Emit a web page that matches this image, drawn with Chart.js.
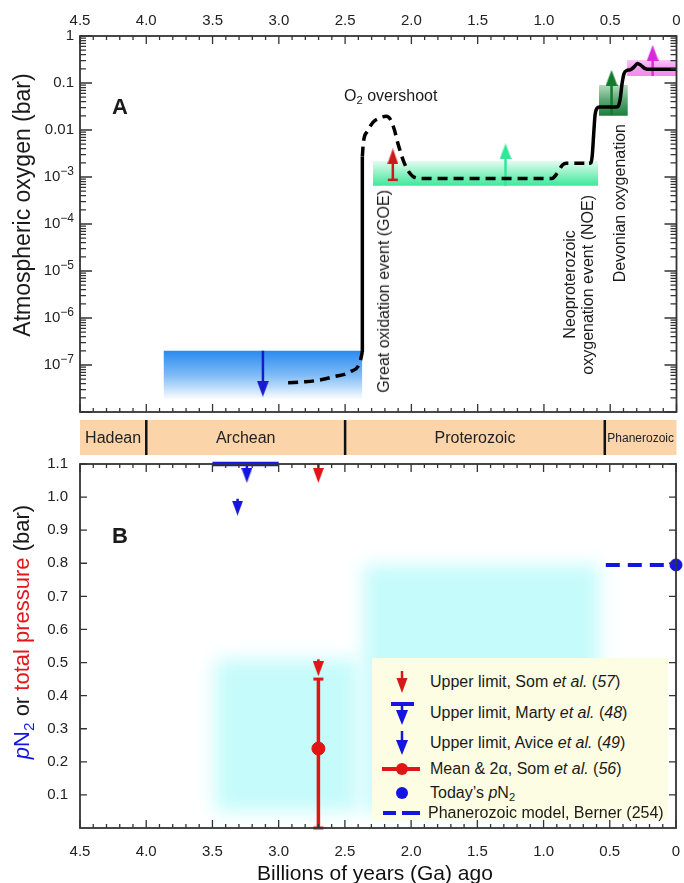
<!DOCTYPE html>
<html>
<head>
<meta charset="utf-8">
<script src="https://cdn.jsdelivr.net/npm/chart.js@4.4.0/dist/chart.umd.min.js"></script>
<style>
    html, body { margin: 0; padding: 0; background: #fff; }
    body { width: 684px; height: 883px; position: relative; overflow: hidden;
           font-family: "Liberation Sans", Arial, sans-serif; color: #1a1a1a; }
    canvas { position: absolute; left: 0; }
    #chartA { top: 0; }
    #chartB { top: 456px; }
    sub { font-size: 0.7em; vertical-align: -0.3em; line-height: 0; }
    .note { position: absolute; white-space: nowrap; font-size: 16px; line-height: 18px; }
    .vert { writing-mode: vertical-rl; transform: rotate(180deg); text-align: center; }
    .ytitle { position: absolute; white-space: nowrap; line-height: 26px;
              transform: translate(-50%, -50%) rotate(-90deg); }
    .xtitle { position: absolute; left: 75px; width: 600px; top: 861px; text-align: center;
              font-size: 21px; line-height: 24px; color: #111; }
    .panel { position: absolute; font-weight: bold; font-size: 22px; line-height: 24px; }
    #legend { position: absolute; left: 372px; top: 658px; width: 296px; height: 162px; background: #fdfde3; }
    .row { position: absolute; left: 0; height: 30px; line-height: 30px; font-size: 16px; white-space: nowrap; }
    .row svg { position: absolute; left: 0; top: 0; }
    .row span { position: absolute; left: 58px; top: 0; }
</style>
</head>
<body>
<canvas id="chartA" width="684" height="456"></canvas>
<canvas id="chartB" width="684" height="427"></canvas>

<div class="ytitle" style="left:22px; top:205px; font-size:23px;">Atmospheric oxygen (bar)</div>
<div class="ytitle" style="left:22px; top:632px; font-size:22px;"><span style="color:#1515e6"><i>p</i>N<sub>2</sub></span> or <span style="color:#e3161b">total pressure</span> (bar)</div>
<div class="xtitle">Billions of years (Ga) ago</div>

<div class="panel" style="left:112px; top:95px;">A</div>
<div class="panel" style="left:112px; top:524px;">B</div>

<div class="note" style="left:344px; top:87px;">O<sub>2</sub> overshoot</div>
<div class="note vert" style="left:375px; bottom:490px;">Great oxidation event (GOE)</div>
<div class="note vert" style="left:561px; bottom:508px;">Neoproterozoic<br>oxygenation event (NOE)</div>
<div class="note vert" style="left:611px; bottom:601px;">Devonian oxygenation</div>

<div id="legend">
    <div class="row" style="top:9px;">
        <svg width="58" height="30"><line x1="30" y1="4" x2="30" y2="14" stroke="#d11a1a" stroke-width="2.5"/><polygon points="24.5,11 35.5,11 30,26" fill="#d11a1a"/></svg>
        <span>Upper limit, Som <i>et al.</i> (<i>57</i>)</span>
    </div>
    <div class="row" style="top:40px;">
        <svg width="58" height="30"><line x1="19" y1="6" x2="42" y2="6" stroke="#1515e0" stroke-width="4"/><line x1="30" y1="6" x2="30" y2="15" stroke="#1515e0" stroke-width="2.5"/><polygon points="24,12 36,12 30,27" fill="#1515e0"/></svg>
        <span>Upper limit, Marty <i>et al.</i> (<i>48</i>)</span>
    </div>
    <div class="row" style="top:70px;">
        <svg width="58" height="30"><line x1="30" y1="3" x2="30" y2="15" stroke="#1515e0" stroke-width="2.5"/><polygon points="24,12 36,12 30,27" fill="#1515e0"/></svg>
        <span>Upper limit, Avice <i>et al.</i> (<i>49</i>)</span>
    </div>
    <div class="row" style="top:96px;">
        <svg width="58" height="30"><line x1="10" y1="15" x2="48" y2="15" stroke="#e01515" stroke-width="4"/><circle cx="30" cy="15" r="6" fill="#e01515"/></svg>
        <span>Mean &amp; 2α, Som <i>et al.</i> (<i>56</i>)</span>
    </div>
    <div class="row" style="top:120px;">
        <svg width="58" height="30"><circle cx="30" cy="15" r="6" fill="#1515e0"/></svg>
        <span>Today’s <i>p</i>N<sub>2</sub></span>
    </div>
    <div class="row" style="top:140px;">
        <svg width="58" height="30"><line x1="11" y1="15" x2="24" y2="15" stroke="#1515e0" stroke-width="4"/><line x1="30" y1="15" x2="48" y2="15" stroke="#1515e0" stroke-width="4"/></svg>
        <span style="left:56px;">Phanerozoic model, Berner (254)</span>
    </div>
</div>

<script>
    // ---- axes ----
    var xTickValues = [4.5, 4.0, 3.5, 3.0, 2.5, 2.0, 1.5, 1.0, 0.5, 0];
    var xTickLabels = ['4.5', '4.0', '3.5', '3.0', '2.5', '2.0', '1.5', '1.0', '0.5', '0'];
    var o2TickValues = [1, 0.1, 0.01, 1e-3, 1e-4, 1e-5, 1e-6, 1e-7];
    var o2TickLabels = ['1', '0.1', '0.01', '10^−3', '10^−4', '10^−5', '10^−6', '10^−7'];
    var n2TickValues = [0.1, 0.2, 0.3, 0.4, 0.5, 0.6, 0.7, 0.8, 0.9, 1.0, 1.1];
    var n2TickLabels = ['0.1', '0.2', '0.3', '0.4', '0.5', '0.6', '0.7', '0.8', '0.9', '1.0', '1.1'];

    var eonEdges = [4.5, 4.0, 2.5, 0.541, 0];
    var eonNames = ['Hadean', 'Archean', 'Proterozoic', 'Phanerozoic'];

    // ---- panel A: O2 history (age in Ga, pO2 in bar) ----
    var archeanAge = [2.93, 2.80, 2.69, 2.59, 2.46, 2.39, 2.37];
    var archeanO2 = [4.2e-8, 4.4e-8, 4.8e-8, 5.6e-8, 7.2e-8, 1.1e-7, 1.9e-7];
    var goeAge = [2.37, 2.37];
    var goeO2 = [1.9e-7, 2.7e-3];
    var proteroAge = [2.37, 2.362, 2.33, 2.29, 2.24, 2.19, 2.16, 2.13, 2.10, 2.06, 2.02, 1.96, 1.90, 0.94, 0.90, 0.86, 0.83, 0.66];
    var proteroO2 = [2.7e-3, 5.5e-3, 9.5e-3, 0.0145, 0.018, 0.0195, 0.017, 0.0105, 0.005, 0.0022, 0.0013, 9.5e-4, 9.3e-4, 9.3e-4, 1.2e-3, 1.8e-3, 1.95e-3, 1.95e-3];
    var neoAge = [0.66, 0.645, 0.635, 0.625, 0.615, 0.60, 0.58, 0.45, 0.44, 0.425, 0.41, 0.395, 0.375, 0.35, 0.32, 0.295, 0.27, 0.24, 0.20, 0];
    var neoO2 = [1.95e-3, 2.0e-3, 3e-3, 8e-3, 0.02, 0.029, 0.031, 0.031, 0.032, 0.045, 0.1, 0.16, 0.185, 0.19, 0.22, 0.26, 0.24, 0.205, 0.195, 0.195];

    // constraint boxes: [older, younger] age, [low, high] pO2
    var archeanBoxAge = [3.87, 2.37], archeanBoxO2 = [1.8e-8, 2e-7];
    var proteroBoxAge = [2.29, 0.59], proteroBoxO2 = [6.5e-4, 2.2e-3];
    var devonianBoxAge = [0.585, 0.367], devonianBoxO2 = [0.02, 0.091];
    var phanBoxAge = [0.373, 0], phanBoxO2 = [0.141, 0.31];

    // limit arrows: age, [base, head centre]
    var archeanArrowAge = 3.12, archeanArrowO2 = [2e-7, 3.13e-8];
    var goeArrowAge = 2.14, goeArrowO2 = [8.7e-4, 2.75e-3];
    var proteroArrowAge = 1.29, proteroArrowO2 = [6.5e-4, 3.5e-3];
    var devonianArrowAge = 0.49, devonianArrowO2 = [0.021, 0.128];
    var phanArrowAge = 0.18, phanArrowO2 = [0.141, 0.435];

    // ---- panel B: pN2 / total pressure (bar) ----
    var martyAge = [3.5, 3.0], martyN2 = 1.1;
    var martyArrowAge = 3.24, martyArrowN2 = [1.1, 1.0655];
    var aviceArrowAge = 3.31, aviceArrowN2 = [0.995, 0.9666];
    var som57Age = 2.7, som57TopN2 = [1.1, 1.0655], som57LowN2 = [0.51, 0.481];
    var som56Age = 2.7, som56Mean = 0.24, som56Range = [0, 0.45];
    var bernerAge = [0.53, 0], bernerN2 = 0.795;
    var todayAge = 0, todayN2 = 0.795;
    var hazeAge = [[3.48, 2.40], [2.36, 0.58]];
    var hazeN2 = [[0.05, 0.51], [0.05, 0.795]];

    var FONT = '"Liberation Sans", Arial, sans-serif';
    Chart.defaults.font.family = FONT;

    function pts(ages, vals) {
        return ages.map(function(a, i) { return {x: a, y: vals[i]}; });
    }
    function vline(age, vals) {
        return vals.map(function(v) { return {x: age, y: v}; });
    }

    // elongated arrowhead sprite, pointing up
    function arrowHead(color, w, h) {
        var c = document.createElement('canvas');
        c.width = w;
        c.height = h;
        var g = c.getContext('2d');
        g.fillStyle = color;
        g.beginPath();
        g.moveTo(w / 2, 0);
        g.lineTo(w, h);
        g.lineTo(0, h);
        g.closePath();
        g.fill();
        return c;
    }

    function curve(ages, vals, dashed) {
        return {
            data: pts(ages, vals), borderColor: '#000', borderWidth: 3.5,
            borderDash: dashed ? [10, 6] : [], borderJoinStyle: 'round',
            pointRadius: 0, cubicInterpolationMode: 'monotone', fill: false, order: 0
        };
    }

    function box(ages, vals, stops) {
        return {
            data: [{x: ages[0], y: vals[1]}, {x: ages[1], y: vals[1]}],
            fill: {value: vals[0]}, borderColor: 'rgba(0,0,0,0)', borderWidth: 0, pointRadius: 0, order: 2,
            backgroundColor: function(c) {
                var ch = c.chart;
                if (!ch.chartArea) return stops[stops.length - 1];
                var y = ch.scales.y;
                var g = ch.ctx.createLinearGradient(0, y.getPixelForValue(vals[1]), 0, y.getPixelForValue(vals[0]));
                stops.forEach(function(s, i) { g.addColorStop(i / (stops.length - 1), s); });
                return g;
            }
        };
    }

    function arrow(age, vals, color, down, capped, size) {
        var head = arrowHead(color, size[0], size[1]);
        return {
            data: vline(age, vals), borderColor: color, backgroundColor: color, borderWidth: 2.5,
            pointRadius: [capped ? 5 : 0, 6], pointStyle: [capped ? 'line' : 'circle', head],
            pointRotation: down ? 180 : 0, pointBackgroundColor: color, pointBorderColor: color,
            pointBorderWidth: [2.5, 1], fill: false, order: 1, clip: false
        };
    }

    // frame, inward ticks on all four sides, tick labels
    var framePlugin = {
        id: 'frame',
        afterDatasetsDraw: function(chart, args, o) {
            var ctx = chart.ctx, a = chart.chartArea, xs = chart.scales.x, ys = chart.scales.y;
            ctx.save();
            ctx.strokeStyle = '#333';
            ctx.lineWidth = 1.3;
            ctx.beginPath();
            o.xTicks.forEach(function(t) {
                var p = xs.getPixelForValue(t[0]);
                ctx.moveTo(p, a.top); ctx.lineTo(p, a.top + t[1]);
                ctx.moveTo(p, a.bottom); ctx.lineTo(p, a.bottom - t[1]);
            });
            o.yTicks.forEach(function(t) {
                var p = ys.getPixelForValue(t[0]);
                ctx.moveTo(a.left, p); ctx.lineTo(a.left + t[1], p);
                ctx.moveTo(a.right, p); ctx.lineTo(a.right - t[1], p);
            });
            ctx.stroke();
            ctx.lineWidth = 1.8;
            ctx.strokeRect(a.left, a.top, a.right - a.left, a.bottom - a.top);

            ctx.fillStyle = '#222';
            ctx.textBaseline = 'middle';
            ctx.textAlign = 'center';
            ctx.font = '15px ' + FONT;
            var ly = o.xSide === 'top' ? a.top - o.xGap : a.bottom + o.xGap;
            xTickValues.forEach(function(v, i) {
                ctx.fillText(xTickLabels[i], xs.getPixelForValue(v), ly);
            });
            ctx.textAlign = 'right';
            o.yValues.forEach(function(v, i) {
                var py = ys.getPixelForValue(v);
                var parts = o.yLabels[i].split('^');
                if (parts.length === 2) {
                    ctx.font = '12px ' + FONT;
                    var w = ctx.measureText(parts[1]).width;
                    ctx.fillText(parts[1], a.left - o.yGap, py - 5);
                    ctx.font = '15px ' + FONT;
                    ctx.fillText(parts[0], a.left - o.yGap - w, py);
                } else {
                    ctx.font = '15px ' + FONT;
                    ctx.fillText(parts[0], a.left - o.yGap, py);
                }
            });
            ctx.restore();
        }
    };

    // geologic eon band under panel A
    var eonPlugin = {
        id: 'eons',
        afterDraw: function(chart, args, o) {
            var ctx = chart.ctx, xs = chart.scales.x;
            var x0 = xs.getPixelForValue(eonEdges[0]);
            var x1 = xs.getPixelForValue(eonEdges[eonEdges.length - 1]);
            ctx.save();
            ctx.fillStyle = '#fbd4a9';
            ctx.fillRect(x0, o.top, x1 - x0, o.height);
            ctx.strokeStyle = '#111';
            ctx.lineWidth = 2.5;
            ctx.beginPath();
            for (var i = 1; i < eonEdges.length - 1; i++) {
                var p = xs.getPixelForValue(eonEdges[i]);
                ctx.moveTo(p, o.top); ctx.lineTo(p, o.top + o.height);
            }
            ctx.stroke();
            ctx.fillStyle = '#222';
            ctx.textAlign = 'center';
            ctx.textBaseline = 'middle';
            eonNames.forEach(function(n, i) {
                var c = (xs.getPixelForValue(eonEdges[i]) + xs.getPixelForValue(eonEdges[i + 1])) / 2;
                ctx.font = o.sizes[i] + 'px ' + FONT;
                ctx.fillText(n, c, o.top + o.height / 2 + 1);
            });
            ctx.restore();
        }
    };

    // soft cyan ranges in panel B
    var hazePlugin = {
        id: 'haze',
        beforeDatasetsDraw: function(chart, args, o) {
            var ctx = chart.ctx, xs = chart.scales.x, ys = chart.scales.y;
            ctx.save();
            ctx.filter = 'blur(' + o.blur + 'px)';
            ctx.fillStyle = o.color;
            hazeAge.forEach(function(ages, i) {
                var l = xs.getPixelForValue(ages[0]), r = xs.getPixelForValue(ages[1]);
                var t = ys.getPixelForValue(hazeN2[i][1]), b = ys.getPixelForValue(hazeN2[i][0]);
                ctx.fillRect(l, t, r - l, b - t);
            });
            ctx.restore();
        }
    };

    var xTicks = [];
    for (var i = 0; i <= 45; i++) xTicks.push([i / 10, i % 5 === 0 ? 8 : 4]);
    var logTicks = [[1, 12]];
    for (var e = -8; e < 0; e++) {
        for (var k = 1; k <= 9; k++) logTicks.push([k * Math.pow(10, e), k === 1 ? 12 : 6]);
    }
    var linTicks = n2TickValues.map(function(v) { return [v, 7]; });

    var ageAxis = {type: 'linear', display: false, reverse: true, min: 0, max: 4.5};

    var chartA = new Chart(document.getElementById('chartA'), {
        type: 'line',
        data: {
            datasets: [
                box(archeanBoxAge, archeanBoxO2, ['#2a8aef', '#7fbcf6', '#ffffff']),
                box(proteroBoxAge, proteroBoxO2, ['#e4fcf0', '#8ff2c4', '#3ee89c']),
                box(devonianBoxAge, devonianBoxO2, ['#b4dcbf', '#5aa673', '#1a7d3c']),
                box(phanBoxAge, phanBoxO2, ['#f9c8f6', '#f29cee', '#f08ceb']),
                curve(archeanAge, archeanO2, true),
                Object.assign(curve(goeAge, goeO2, false), {cubicInterpolationMode: 'default', tension: 0}),
                curve(proteroAge, proteroO2, true),
                curve(neoAge, neoO2, false),
                arrow(archeanArrowAge, archeanArrowO2, '#1a1acf', true, false, [12, 16]),
                arrow(goeArrowAge, goeArrowO2, '#cc1a1a', false, true, [11, 16]),
                arrow(proteroArrowAge, proteroArrowO2, '#2fe89a', false, false, [12, 16]),
                arrow(devonianArrowAge, devonianArrowO2, '#117a2c', false, false, [12, 16]),
                arrow(phanArrowAge, phanArrowO2, '#d92cd9', false, false, [12, 16])
            ]
        },
        options: {
            responsive: false,
            animation: false,
            events: [],
            layout: {padding: {left: 80, right: 7, top: 36, bottom: 44}},
            plugins: {
                legend: {display: false},
                tooltip: {enabled: false},
                frame: {xTicks: xTicks, yTicks: logTicks, xSide: 'top', xGap: 15,
                        yValues: o2TickValues, yLabels: o2TickLabels, yGap: 6},
                eons: {top: 420, height: 35, sizes: [16, 16, 16, 12]}
            },
            scales: {
                x: ageAxis,
                y: {type: 'logarithmic', display: false, min: 1e-8, max: 1}
            }
        },
        plugins: [framePlugin, eonPlugin]
    });

    var blue = '#1515e0', red = '#e01515';
    var chartB = new Chart(document.getElementById('chartB'), {
        type: 'line',
        data: {
            datasets: [
                {data: [{x: martyAge[0], y: martyN2}, {x: martyAge[1], y: martyN2}], borderColor: blue, borderWidth: 4.5, pointRadius: 0, clip: false, order: 1},
                arrow(martyArrowAge, martyArrowN2, blue, true, false, [11, 15]),
                arrow(aviceArrowAge, aviceArrowN2, blue, true, false, [11, 15]),
                arrow(som57Age, som57TopN2, red, true, false, [11, 15]),
                arrow(som57Age, som57LowN2, red, true, false, [11, 15]),
                {data: vline(som56Age, som56Range), borderColor: red, borderWidth: 3.5, pointStyle: 'line', pointRadius: 5, pointBorderWidth: 3, pointBorderColor: red, clip: false, order: 1},
                {data: [{x: som56Age, y: som56Mean}], showLine: false, pointRadius: 6.5, pointBackgroundColor: red, pointBorderColor: red, order: 0},
                {data: [{x: bernerAge[0], y: bernerN2}, {x: bernerAge[1], y: bernerN2}], borderColor: blue, borderWidth: 4, borderDash: [14, 8], pointRadius: 0, order: 1},
                {data: [{x: todayAge, y: todayN2}], showLine: false, pointRadius: 6, pointBackgroundColor: blue, pointBorderColor: blue, clip: false, order: 0}
            ]
        },
        options: {
            responsive: false,
            animation: false,
            events: [],
            layout: {padding: {left: 80, right: 7, top: 5, bottom: 55}},
            plugins: {
                legend: {display: false},
                tooltip: {enabled: false},
                frame: {xTicks: xTicks, yTicks: linTicks, xSide: 'bottom', xGap: 24,
                        yValues: n2TickValues, yLabels: n2TickLabels, yGap: 12},
                haze: {blur: 9, color: '#c6fbfb'}
            },
            scales: {
                x: ageAxis,
                y: {type: 'linear', display: false, min: 0, max: 1.1}
            }
        },
        plugins: [hazePlugin, framePlugin]
    });
</script>
</body>
</html>
